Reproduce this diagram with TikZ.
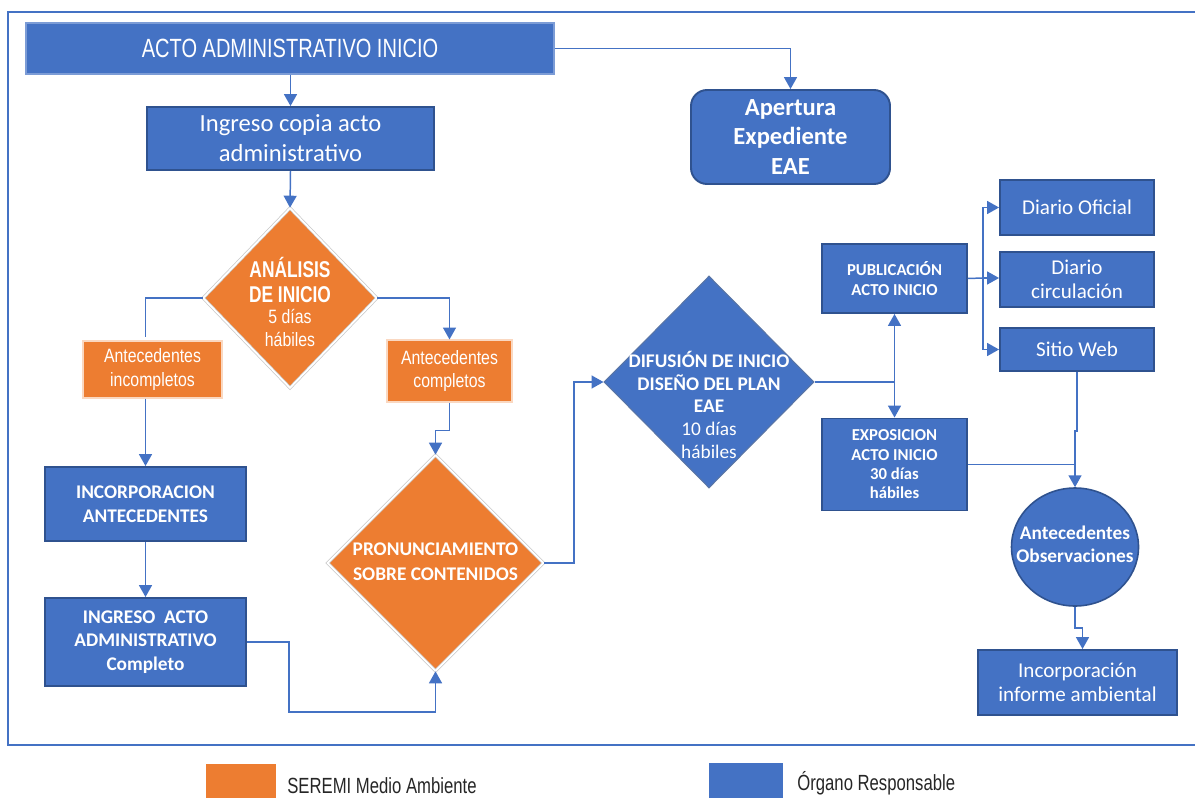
\documentclass[tikz,border=0pt]{standalone}
\usepackage{fontspec}
\setmainfont{Carlito}
\newfontfamily\narrowfont[FakeStretch=0.82]{Liberation Sans}
\newfontfamily\titlefont[FakeStretch=0.76]{Liberation Sans}
\usetikzlibrary{shapes.geometric,arrows.meta}
\definecolor{azul}{HTML}{4472C4}
\definecolor{azulosc}{HTML}{2F528F}
\definecolor{naranja}{HTML}{ED7D31}
\definecolor{leyenda}{HTML}{262626}
\begin{document}
\begin{tikzpicture}[x=0.02cm,y=-0.02cm,
  box/.style 2 args={rectangle, fill=azul, draw=azulosc, line width=1.1pt,
    text=white, align=center, inner sep=0pt,
    minimum width=#1*0.02cm, minimum height=#2*0.02cm},
  obox/.style 2 args={rectangle, fill=naranja, draw=naranja!30!white, line width=0.6pt,
    text=white, align=center, inner sep=0pt,
    minimum width=#1*0.02cm, minimum height=#2*0.02cm},
  rombo/.style 2 args={diamond, inner sep=0pt,
    minimum width=#1*0.02cm, minimum height=#2*0.02cm},
  rnar/.style={fill=naranja, draw=black!22, line width=0.4pt, double=white, double distance=1pt},
  razul/.style={fill=azul, draw=azulosc!80, line width=0.6pt},
  txt/.style={text=white, align=center, inner sep=0pt},
  link/.style={draw=azul, line width=0.85pt},
  arr/.style={link, -{Triangle[width=7.4pt,length=6.8pt]}},
]
\useasboundingbox (0,0) rectangle (1195,797);
\clip (0,0) rectangle (1195,797);

% outer frame
\draw[azul, line width=1.4pt] (8,12) rectangle (1215,745);

% ---- blocks ----
\node[box={528}{51}, draw=azul!70!white, line width=0.6pt,
      font=\titlefont\fontsize{15}{18}\selectfont] (acto) at (290,48.5)
      {ACTO ADMINISTRATIVO INICIO};
\node[box={287}{63}, font=\fontsize{14}{17}\selectfont] (ingreso) at (290.5,138.5)
      {Ingreso copia acto\\administrativo};
\node[box={199}{94}, rounded corners=0.32cm, font=\bfseries\fontsize{14}{17}\selectfont]
      (apert) at (790.5,137) {Apertura\\Expediente\\EAE};

% analysis decision
\node[rombo={174}{180}, rnar] (analisis) at (290,298) {};
\node[txt, font=\titlefont\bfseries\fontsize{13}{14.7}\selectfont] (analisisA) at (290,280)
      {ANÁLISIS\\DE INICIO};
\node[txt, font=\narrowfont\fontsize{11}{12.6}\selectfont] (analisisB) at (290,328)
      {5 días\\hábiles};

\node[obox={139}{57}, font=\narrowfont\fontsize{11}{13.6}\selectfont] (antinc) at (152.5,369.5)
      {Antecedentes\\incompletos};
\node[obox={125}{62}, font=\narrowfont\fontsize{11}{13.2}\selectfont] (antcom) at (449.5,371)
      {Antecedentes\\completos};

\node[box={201}{74}, font=\bfseries\fontsize{11}{13.6}\selectfont] (incorp) at (145.5,504)
      {INCORPORACION\\ANTECEDENTES};
\node[box={201}{88}, font=\bfseries\fontsize{11}{13.3}\selectfont] (ingact) at (145.5,642)
      {INGRESO\ \ ACTO\\ADMINISTRATIVO\\Completo};

% pronouncement decision
\node[rombo={216}{216}, rnar] (pron) at (435.5,563) {};
\node[txt, font=\bfseries\fontsize{11}{14}\selectfont] (pronT) at (435.5,562)
      {PRONUNCIAMIENTO\\SOBRE CONTENIDOS};

% diffusion decision
\node[rombo={210}{212}, razul] (dif) at (709,382) {};
\node[txt, font=\bfseries\fontsize{11}{13}\selectfont] (difA) at (709,382)
      {DIFUSIÓN DE INICIO\\DISEÑO DEL PLAN\\EAE};
\node[txt, font=\fontsize{11}{13}\selectfont] (difB) at (709,440)
      {10 días\\hábiles};

\node[box={145}{69}, font=\bfseries\fontsize{9.5}{11.3}\selectfont] (publ) at (894.5,278.5)
      {PUBLICACIÓN\\ACTO INICIO};
\node[box={145}{92}, font=\bfseries\fontsize{9.5}{11}\selectfont] (expo) at (894.5,464.5)
      {EXPOSICION\\ACTO INICIO\\30 días\\hábiles};

\node[box={154}{55}, font=\fontsize{12}{14}\selectfont] (dof) at (1077,207.5) {Diario Oficial};
\node[box={154}{55}, font=\fontsize{12}{14}\selectfont] (dcir) at (1077,279.5) {Diario\\circulación};
\node[box={154}{43}, font=\fontsize{12}{14}\selectfont] (web) at (1077,349.5) {Sitio Web};

\node[ellipse, fill=azul, draw=azulosc, line width=0.9pt, inner sep=0pt,
      minimum width=127*0.02cm, minimum height=118*0.02cm] (obs) at (1075,547) {};
\node[txt, font=\bfseries\fontsize{11}{13}\selectfont] (obsT) at (1075,544)
      {Antecedentes\\Observaciones};

\node[box={199}{65}, font=\fontsize{12}{14}\selectfont] (infamb) at (1077.5,682.5)
      {Incorporación\\informe ambiental};

% ---- connectors ----
\draw[arr] (acto.south -| ingreso.north) -- (ingreso.north);
\draw[arr] (acto.east) -| (apert.north);
\draw[arr] (ingreso.south) -- (analisis.north);

\draw[link] (analisis.west) -| ([yshift=0.06cm]antinc.north -| incorp.north);
\draw[arr] (antinc.south -| incorp.north) -- (incorp.north);
\draw[arr] (analisis.east) -| (antcom.north);
\draw[arr] (antcom.south) -- ++(0,28) coordinate (c1) -| (pron.north);

\draw[arr] (incorp.south) -- (ingact.north);
\draw[arr] (ingact.east) -- ++(42,0) coordinate (c2) |- ++(0,70) -| (pron.south);

\draw[arr] (pron.east) -- ++(30,0) coordinate (c3) |- (dif.west);

\draw[link] (dif.east) -- (publ.south |- dif.east) coordinate (j1);
\draw[arr] (j1) -- (publ.south);
\draw[arr] (j1) -- (expo.north);

\coordinate (b1) at (983,278);
\draw[link] (publ.east) -- (b1);
\draw[arr] (b1) |- (dof.west);
\draw[arr] (b1) -- (dcir.west |- b1);
\draw[arr] (b1) |- (web.west);

\draw[arr] (web.south) -- ++(0,59) coordinate (c4) -| (obs.north);
\draw[link] (expo.east) -- (obs.north |- expo.east);
\draw[arr] (obs.south) -- ++(0,21) coordinate (c5) -| ([xshift=0.1cm]infamb.north);

% ---- legend ----
\node[fill=naranja, inner sep=0pt, anchor=north west,
      minimum width=70*0.02cm, minimum height=45*0.02cm] (lnar) at (206,764) {};
\node[anchor=base west, inner sep=0pt, text=leyenda,
      font=\titlefont\fontsize{12.5}{14}\selectfont] (lnarT) at (287,793) {SEREMI Medio Ambiente};
\node[fill=azul, inner sep=0pt, anchor=north west,
      minimum width=74*0.02cm, minimum height=45*0.02cm] (lazul) at (709,763) {};
\node[anchor=base west, inner sep=0pt, text=leyenda,
      font=\titlefont\fontsize{12.5}{14}\selectfont] (lazulT) at (797,790) {Órgano Responsable};
\end{tikzpicture}
\end{document}
